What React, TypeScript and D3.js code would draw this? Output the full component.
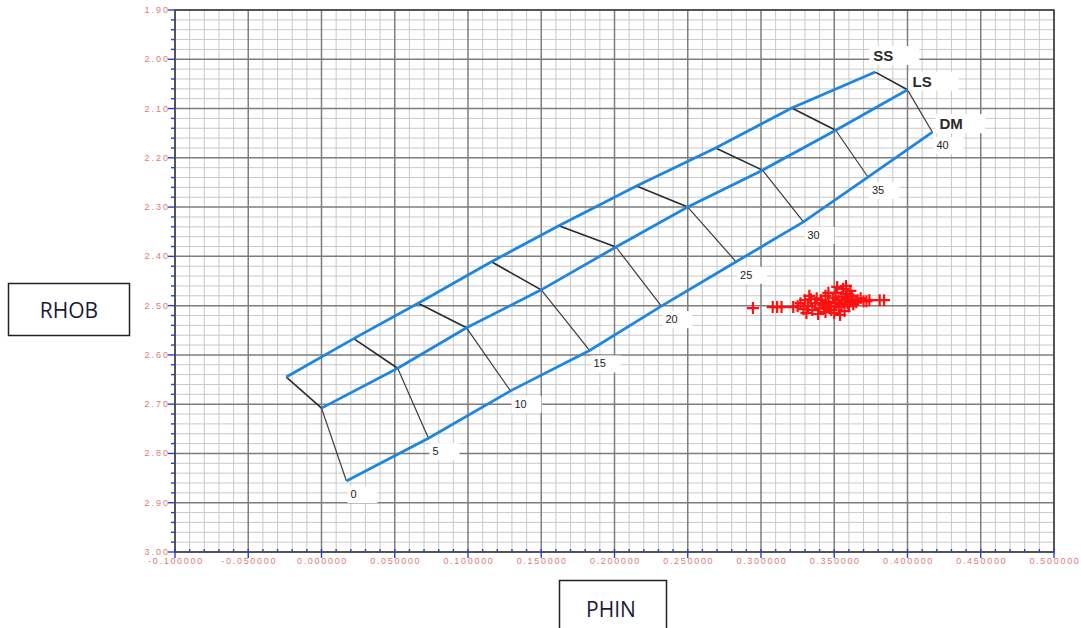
import React from 'react';
import * as d3 from 'd3';

// ---- Data ----
const porosity = [0, 5, 10, 15, 20, 25, 30, 35, 40];
const lithologies = ['SS', 'LS', 'DM'];
const ssPhin = [-0.024, 0.022, 0.066, 0.116, 0.162, 0.215, 0.269, 0.321, 0.378];
const ssRhob = [2.645, 2.567, 2.495, 2.411, 2.338, 2.257, 2.180, 2.099, 2.026];
const lsPhin = [0.000, 0.052, 0.099, 0.150, 0.201, 0.250, 0.301, 0.351, 0.400];
const lsRhob = [2.708, 2.627, 2.545, 2.468, 2.381, 2.300, 2.225, 2.144, 2.062];
const dmPhin = [0.017, 0.073, 0.129, 0.183, 0.232, 0.283, 0.329, 0.373, 0.417];
const dmRhob = [2.856, 2.769, 2.673, 2.591, 2.501, 2.411, 2.330, 2.239, 2.148];

const samplePhin = [
  0.2945, 0.308, 0.311, 0.314, 0.322, 0.325,
  0.330, 0.332, 0.333, 0.335, 0.337, 0.338, 0.340, 0.341, 0.342, 0.344, 0.344, 0.346, 0.347, 0.348,
  0.349, 0.351, 0.351, 0.353, 0.353, 0.355, 0.355, 0.356, 0.357, 0.357, 0.358, 0.359, 0.359, 0.360,
  0.361, 0.361, 0.362, 0.363, 0.363, 0.365, 0.366, 0.368,
  0.327, 0.329, 0.331, 0.334, 0.339, 0.343, 0.346, 0.350, 0.352, 0.354, 0.358,
  0.370, 0.372, 0.374, 0.381, 0.384,
];
const sampleRhob = [
  2.505, 2.503, 2.503, 2.503, 2.503, 2.501,
  2.489, 2.501, 2.480, 2.509, 2.495, 2.485, 2.505, 2.489, 2.497, 2.513, 2.480, 2.493, 2.501, 2.509,
  2.485, 2.495, 2.474, 2.503, 2.489, 2.482, 2.497, 2.466, 2.511, 2.489, 2.476, 2.495, 2.485, 2.501,
  2.491, 2.470, 2.480, 2.497, 2.487, 2.493, 2.489, 2.485,
  2.495, 2.507, 2.515, 2.487, 2.517, 2.505, 2.474, 2.515, 2.462, 2.519, 2.460,
  2.491, 2.491, 2.489, 2.489, 2.489,
];

const xMajor = [-0.1, -0.05, 0, 0.05, 0.1, 0.15, 0.2, 0.25, 0.3, 0.35, 0.4, 0.45, 0.5];
const yMajor = [1.9, 2.0, 2.1, 2.2, 2.3, 2.4, 2.5, 2.6, 2.7, 2.8, 2.9, 3.0];
const xTitle = 'PHIN';
const yTitle = 'RHOB';

// ---- Layout ----
const W = 1081;
const H = 628;
const x = d3.scaleLinear().domain([-0.1, 0.5]).range([175, 1054]);
const y = d3.scaleLinear().domain([1.9, 3.0]).range([10, 552]);

const xMinor = d3.range(0, 61).map((i) => -0.1 + i * 0.01);
const yMinor = d3.range(0, 56).map((i) => 1.9 + i * 0.02);

const lines = [
  { name: lithologies[0], phin: ssPhin, rhob: ssRhob, dx: -2, dy: -11 },
  { name: lithologies[1], phin: lsPhin, rhob: lsRhob, dx: 5, dy: -3 },
  { name: lithologies[2], phin: dmPhin, rhob: dmRhob, dx: 7, dy: -3 },
];

const lineGen = d3
  .line<[number, number]>()
  .x((d) => x(d[0]))
  .y((d) => y(d[1]));

const blue = '#1f86e0';
const tickBlue = '#2a3fd6';
const labelRed = '#e07878';

export default function App() {
  const pts = (phin: number[], rhob: number[]) =>
    phin.map((p, i) => [p, rhob[i]] as [number, number]);

  return (
    <svg
      width={W}
      height={H}
      style={{ position: 'absolute', left: 0, top: 0, display: 'block', background: '#fff' }}
    >
      {/* minor grid */}
      <g stroke="#c9c9c9" strokeWidth={1}>
        {xMinor.map((v, i) =>
          i % 5 === 0 ? null : (
            <line key={'xm' + i} x1={x(v)} x2={x(v)} y1={y(1.9)} y2={y(3.0)} />
          )
        )}
        {yMinor.map((v, i) =>
          i % 5 === 0 ? null : (
            <line key={'ym' + i} x1={x(-0.1)} x2={x(0.5)} y1={y(v)} y2={y(v)} />
          )
        )}
      </g>
      {/* major grid */}
      <g stroke="#7d7d7d" strokeWidth={1.5}>
        {xMajor.map((v, i) => (
          <line key={'xM' + i} x1={x(v)} x2={x(v)} y1={y(1.9)} y2={y(3.0)} />
        ))}
        {yMajor.map((v, i) => (
          <line key={'yM' + i} x1={x(-0.1)} x2={x(0.5)} y1={y(v)} y2={y(v)} />
        ))}
      </g>
      {/* frame */}
      <rect
        x={x(-0.1)}
        y={y(1.9)}
        width={x(0.5) - x(-0.1)}
        height={y(3.0) - y(1.9)}
        fill="none"
        stroke="#444"
        strokeWidth={1.6}
      />
      {/* ticks */}
      <g stroke={tickBlue} strokeWidth={1.4}>
        {yMinor.map((v, i) => (
          <line
            key={'yt' + i}
            x1={x(-0.1) - (i % 5 === 0 ? 7 : 4)}
            x2={x(-0.1)}
            y1={y(v)}
            y2={y(v)}
          />
        ))}
        {xMinor.map((v, i) => (
          <line
            key={'xt' + i}
            x1={x(v)}
            x2={x(v)}
            y1={y(3.0) - 3}
            y2={y(3.0) + (i % 5 === 0 ? 6 : 0)}
          />
        ))}
      </g>
      {/* tick labels */}
      <g fill={labelRed} fontFamily="'Liberation Sans', Arial, sans-serif" fontSize={9}>
        {yMajor.map((v, i) => (
          <text
            key={'yl' + i}
            x={x(-0.1) - 5}
            y={y(v)}
            textAnchor="end"
            dominantBaseline="central"
            letterSpacing={2}
          >
            {v.toFixed(2)}
          </text>
        ))}
        {xMajor.map((v, i) => (
          <text key={'xl' + i} x={x(v) + 1} y={y(3.0) + 12} textAnchor="middle" letterSpacing={1.7}>
            {v.toFixed(6)}
          </text>
        ))}
      </g>

      {/* connectors SS-LS */}
      <g stroke="#2a2a2a" strokeWidth={1.6} fill="none">
        {porosity.map((p, i) => (
          <line key={'c1' + p} x1={x(ssPhin[i])} y1={y(ssRhob[i])} x2={x(lsPhin[i])} y2={y(lsRhob[i])} />
        ))}
      </g>
      {/* connectors LS-DM */}
      <g stroke="#3c3c3c" strokeWidth={1.2} fill="none">
        {porosity.map((p, i) => (
          <line key={'c2' + p} x1={x(lsPhin[i])} y1={y(lsRhob[i])} x2={x(dmPhin[i])} y2={y(dmRhob[i])} />
        ))}
      </g>
      {/* lithology lines */}
      {lines.map((l) => (
        <path
          key={l.name}
          d={lineGen(pts(l.phin, l.rhob)) || ''}
          fill="none"
          stroke={blue}
          strokeWidth={2.8}
        />
      ))}

      {/* porosity labels */}
      <g fontFamily="'Liberation Sans', Arial, sans-serif" fontSize={11} fill="#222">
        {porosity.map((p, i) => {
          const px = x(dmPhin[i]) + 4;
          const py = y(dmRhob[i]) + 17;
          return (
            <g key={'pl' + p}>
              <rect x={px - 3} y={py - 12} width={30} height={17} fill="#fff" />
              <text x={px} y={py}>
                {p}
              </text>
            </g>
          );
        })}
      </g>
      {/* lithology labels */}
      <g fontFamily="'Liberation Sans', Arial, sans-serif" fontSize={15} fontWeight="bold" fill="#2a2a2a">
        {lines.map((l) => {
          const n = l.phin.length - 1;
          const px = x(l.phin[n]) + l.dx;
          const py = y(l.rhob[n]) + l.dy;
          return (
            <g key={'ll' + l.name}>
              <rect x={px - 4} y={py - 15} width={50} height={19} fill="#fff" />
              <text x={px} y={py}>
                {l.name}
              </text>
            </g>
          );
        })}
      </g>

      {/* samples */}
      <g stroke="#ff1010" strokeWidth={2.2}>
        {samplePhin.map((p, i) => {
          const cx = x(p);
          const cy = y(sampleRhob[i]);
          return <path key={'s' + i} d={`M${cx - 6},${cy}H${cx + 6}M${cx},${cy - 6}V${cy + 6}`} />;
        })}
      </g>

      {/* axis title boxes */}
      <g fontFamily="'Open Sans', 'Noto Sans', sans-serif" fontSize={21} fill="#1a1a3a">
        <rect x={8.5} y={283.5} width={121} height={52} fill="#fff" stroke="#222" strokeWidth={1.5} />
        <text x={69} y={318} textAnchor="middle">
          {yTitle}
        </text>
        <rect x={559.5} y={580.5} width={107} height={60} fill="#fff" stroke="#222" strokeWidth={1.5} />
        <text x={611} y={617} textAnchor="middle">
          {xTitle}
        </text>
      </g>
    </svg>
  );
}
